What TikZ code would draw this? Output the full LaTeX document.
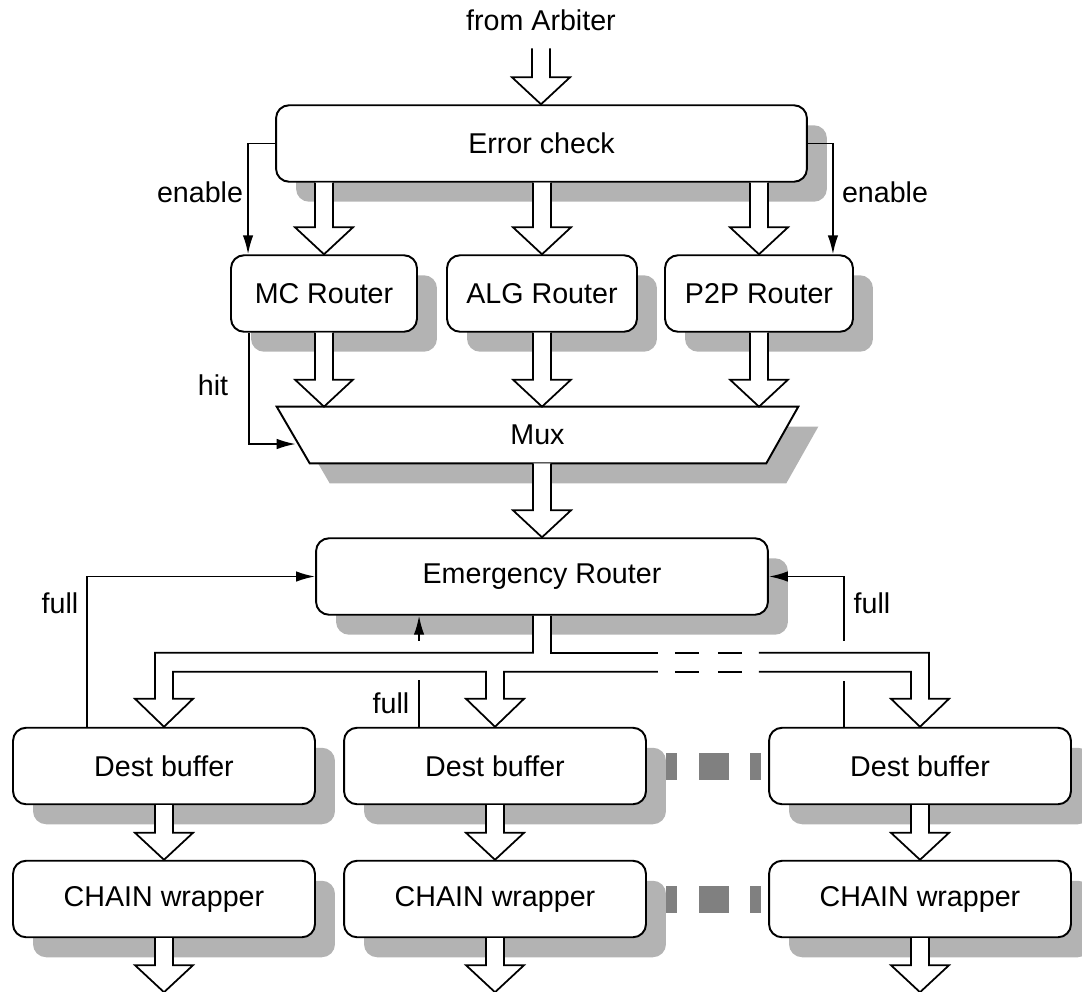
\documentclass[tikz,border=0pt]{standalone}
\usepackage{fontspec}
\setmainfont{Liberation Sans}
\usetikzlibrary{calc,arrows.meta,shadows}

\definecolor{shadowgray}{HTML}{B3B3B3}
\definecolor{dotgray}{HTML}{808080}

\begin{document}
\begin{tikzpicture}[x=0.02cm, y=-0.02cm,
    every node/.style={font=\fontsize{16.3}{19}\selectfont},
    blk/.style={draw, line width=1.1pt, rounded corners=0.26cm, fill=white,
        minimum height=1.53cm,
        drop shadow={shadow xshift=0.4cm, shadow yshift=-0.4cm, fill=shadowgray, opacity=1}},
    sig/.style={line width=1pt, -{Latex[length=0.38cm,width=0.21cm]}},
    bus/.style={line width=1pt},
    fat/.style={draw, fill=white, line width=1pt,
        to path={let \p1=(\tikztostart), \p2=(\tikztotarget) in
            (\x1-0.18cm,\y1) -- (\x1-0.18cm,\y2+0.54cm) -- (\x1-0.58cm,\y2+0.54cm)
            -- (\x1,\y2) -- (\x1+0.58cm,\y2+0.54cm) -- (\x1+0.18cm,\y2+0.54cm)
            -- (\x1+0.18cm,\y1)}}]
    \useasboundingbox (0,0) rectangle (1082,991);

    % Draw blocks
    \node[blk, minimum width=10.62cm] (err) at (541.5,143.5) {Error check};
    \node[blk, minimum width=3.72cm] (mc) at (324,293.5) {MC Router};
    \node[blk, minimum width=3.8cm] (alg) at (542,293.5) {ALG Router};
    \node[blk, minimum width=3.76cm] (ptp) at (759,293.5) {P2P Router};
    \node[blk, minimum width=9.04cm] (emr) at (542,576.5) {Emergency Router};
    \node[blk, minimum width=6.04cm] (db1) at (164,766) {Dest buffer};
    \node[blk, minimum width=6.04cm] (db2) at (495,766) {Dest buffer};
    \node[blk, minimum width=6.04cm] (db3) at (920,766) {Dest buffer};
    \node[blk, minimum width=6.04cm] (cw1) at (164,899) {CHAIN wrapper};
    \node[blk, minimum width=6.04cm] (cw2) at (495,899) {CHAIN wrapper};
    \node[blk, minimum width=6.04cm] (cw3) at (920,899) {CHAIN wrapper};

    % Draw mux
    \path (537.5,435) node[minimum width=10.42cm, minimum height=1.12cm] (mux) {};
    \fill[shadowgray] ($(mux.north west)+(20,20)$) -- ($(mux.north east)+(20,20)$)
        -- ($(mux.south east)+(-12,20)$) -- ($(mux.south west)+(53,20)$) -- cycle;
    \draw[line width=1.1pt, fill=white] (mux.north west) -- (mux.north east)
        -- ($(mux.south east)+(-32,0)$) -- ($(mux.south west)+(33,0)$) -- cycle;
    \node at (mux) {Mux};

    % Add labels
    \node[inner ysep=10pt] (arb) at (541,20) {from Arbiter};
    \node (en1) at (200,192) {enable};
    \node (en2) at (885,192) {enable};
    \node (hit) at (213,385) {hit};
    \node (fl1) at (60,603) {full};
    \node (fl2) at (391,703) {full};
    \node (fl3) at (872,603) {full};

    % Draw data paths
    \draw[fat] (arb.south) to (err.north);
    \foreach \r in {mc,alg,ptp} {
        \draw[fat] (err.south -| \r.north) to (\r.north);
        \draw[fat] (\r.south) to (\r.south |- mux.north);
    }
    \draw[fat] (mux.south -| emr.north) to (emr.north);
    \foreach \i in {1,2,3} {
        \coordinate (out\i) at ($(cw\i.south)+(0,54)$);
        \draw[fat] (db\i.south) to (cw\i.north);
        \draw[fat] (cw\i.south) to (out\i);
    }

    % Draw bus to dest buffers
    \coordinate (u) at ($(emr.south)+(0,37)$);
    \coordinate (l) at ($(emr.south)+(0,56)$);
    \coordinate (g1) at ($(emr.south east)+(-111,0)$);
    \coordinate (g2) at ($(emr.south east)+(-10,0)$);
    \foreach \i in {1,2,3} \coordinate (h\i) at ($(db\i.north)+(0,-28)$);
    \fill[white] ($(emr.south)+(-9,0)$) rectangle ($(u)+(9,0)$);
    \draw[bus] ($(emr.south)+(-9,0)$) |- ($(h1 |- u)+(-9,0)$) -- ($(h1)+(-9,0)$)
        -- ($(h1)+(-29,0)$) -- (db1.north) -- ($(h1)+(29,0)$) -- ($(h1)+(9,0)$)
        |- ($(h2 |- l)+(-9,0)$) -- ($(h2)+(-9,0)$)
        -- ($(h2)+(-29,0)$) -- (db2.north) -- ($(h2)+(29,0)$) -- ($(h2)+(9,0)$)
        |- (g1 |- l);
    \draw[bus] (g1 |- u) -- ($(u)+(9,0)$) -- ($(emr.south)+(9,0)$);
    \draw[bus] (g2 |- l) -- ($(h3 |- l)+(-9,0)$) -- ($(h3)+(-9,0)$)
        -- ($(h3)+(-29,0)$) -- (db3.north) -- ($(h3)+(29,0)$) -- ($(h3)+(9,0)$)
        |- (g2 |- u);
    \foreach \o in {17,60} {
        \draw[bus] ($(g1 |- u)+(\o,0)$) -- ++(24,0);
        \draw[bus] ($(g1 |- l)+(\o,0)$) -- ++(24,0);
    }

    % Draw control signals
    \draw[sig] (err.west) -| ($(mc.north west)+(18,0)$);
    \draw[sig] (err.east) -| ($(ptp.north east)+(-21,0)$);
    \draw[sig] ($(mc.south west)+(19,0)$) |- ($(mux.west)+(19,9)$);
    \draw[sig] ($(db1.north west)+(75,0)$) |- (emr.west);
    \coordinate (f2) at ($(db2.north west)+(76,-86)$);
    \coordinate (f3) at ($(db3.north west)+(76,-86)$);
    \draw[bus] (db2.north west) ++(76,0) -- ++(0,-47);
    \draw[sig] (f2) -- (f2 |- emr.south);
    \draw[bus] (db3.north west) ++(76,0) -- ++(0,-46);
    \draw[sig] (f3) |- (emr.east);

    % Draw gaps between columns
    \foreach \r in {db,cw} {
        \fill[dotgray] ($(\r2.east)+(19,-13)$) rectangle ++(11,27);
        \fill[dotgray] ($(\r2.east)+(52,-13)$) rectangle ++(30,27);
        \fill[dotgray] ($(\r2.east)+(103,-13)$) rectangle ++(11,27);
    }
\end{tikzpicture}
\end{document}
